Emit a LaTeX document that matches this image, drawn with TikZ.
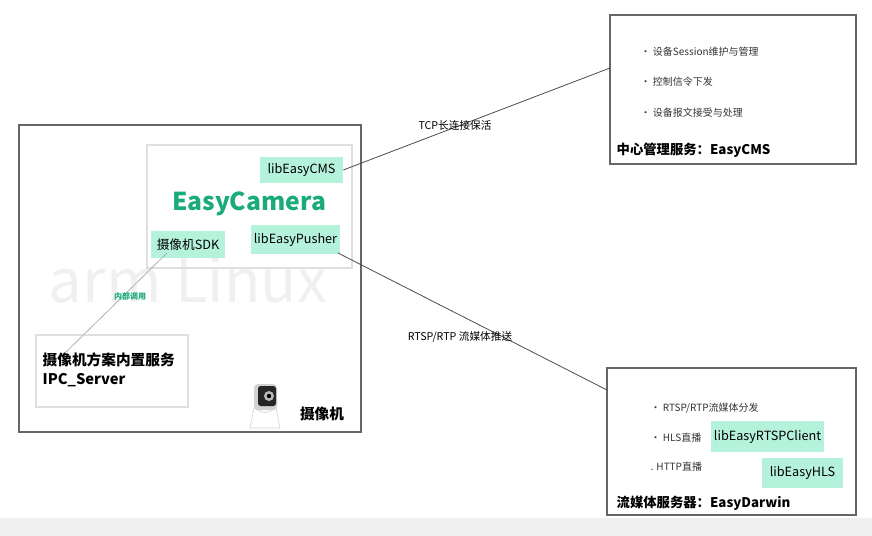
\documentclass[tikz,border=0pt]{standalone}
\usepackage{fontspec}
\setmainfont{Noto Sans CJK SC}
\begin{document}
\begin{tikzpicture}[x=0.75pt,y=-0.75pt,
  box/.style={draw=gray!80!black,line width=0.9pt},
  lbox/.style={draw=gray!25,line width=0.8pt},
  lib/.style={fill=mint,inner sep=0pt,font=\fontsize{9.5}{11}\selectfont},
  conn/.style={draw=gray!60!black,line width=0.6pt},
  bul/.style={anchor=west,font=\fontsize{7.5}{9}\selectfont,text=black!80},
  ttl/.style={anchor=west,font=\fontsize{10}{12}\selectfont\bfseries}]
\definecolor{mint}{HTML}{B5F2DC}
\definecolor{egreen}{HTML}{1BAA7C}
\useasboundingbox (0,0) rectangle (872,536);
\fill[gray!12] (0,518) rectangle (872,536);
% watermark
\node[text=gray!12,font=\fontsize{45}{45}\selectfont] (wm) at (188,280) {arm Linux};
% camera box
\draw[box] (19,125) rectangle (361,432);
\node[lbox,minimum width=153.75pt,minimum height=92.25pt,inner sep=0pt] (ec) at (249.5,206.5) {};
\node[lib,minimum width=62.25pt,minimum height=19.5pt] (cms) at (301.5,170) {libEasyCMS};
\node[text=egreen,font=\fontsize{18.5}{20}\selectfont\bfseries] (ectxt) at (249,204) {EasyCamera};
\node[lib,minimum width=55.5pt,minimum height=20.25pt] (sdk) at (188,244.5) {摄像机SDK};
\node[lib,minimum width=66.75pt,minimum height=21.75pt] (push) at (295.5,239.5) {libEasyPusher};
\node[lbox,minimum width=114pt,minimum height=54pt,inner sep=0pt] (ipc) at (112,371) {};
\node[ttl,align=left,font=\fontsize{11}{14}\selectfont\bfseries] (ipct) at (38,370) {摄像机方案内置服务\\IPC\_Server};
% camera icon
\fill[white,draw=gray!35,line width=0.5pt] (250,428) -- (254,408) .. controls (265,414) .. (276,408) -- (280,428) -- cycle;
\fill[gray!35,rounded corners=3pt] (254,384) rectangle (277,410);
\fill[black!85,rounded corners=2pt] (258,386) rectangle (276,406);
\fill[gray!55] (269,396) circle (5);
\fill[black] (269,396) circle (2.2);
\node[font=\fontsize{11}{13}\selectfont\bfseries] (camlbl) at (322,414) {摄像机};
% internal call
\coordinate (ipcc) at (65,353);
\coordinate (s1) at (167,253);
\draw[conn,draw=gray!60] (s1) -- (ipcc);
\node[text=egreen,font=\fontsize{6}{7}\selectfont\bfseries] (ic) at (130,296) {内部调用};
% CMS box
\node[box,minimum width=184.5pt,minimum height=111.75pt,inner sep=0pt] (cmsbox) at (733,89.5) {};
\node[bul] at (636,52) {· 设备Session维护与管理};
\node[bul] at (636,82) {· 控制信令下发};
\node[bul] at (636,113) {· 设备报文接受与处理};
\node[ttl] at (612,150) {中心管理服务：EasyCMS};
\coordinate (cmsin) at (610,68);
\draw[conn] (cms.east) -- (cmsin);
\node[font=\fontsize{8}{10}\selectfont] at (455,125) {TCP长连接保活};
% Darwin box
\node[box,minimum width=186.75pt,minimum height=110.25pt,inner sep=0pt] (dbox) at (731.5,441.5) {};
\node[bul] at (646,408) {· RTSP/RTP流媒体分发};
\node[bul] at (646,438) {· HLS直播};
\node[bul] at (646,467) {. HTTP直播};
\node[lib,minimum width=84.75pt,minimum height=23.25pt] at (767.5,436.5) {libEasyRTSPClient};
\node[lib,minimum width=60.75pt,minimum height=22.5pt] at (802.5,473) {libEasyHLS};
\node[ttl] at (612,503) {流媒体服务器：EasyDarwin};
\coordinate (din) at (607,390);
\coordinate (p1) at (338,253);
\draw[conn] (p1) -- (din);
\node[font=\fontsize{8}{10}\selectfont] at (460,337) {RTSP/RTP 流媒体推送};
\end{tikzpicture}
\end{document}
